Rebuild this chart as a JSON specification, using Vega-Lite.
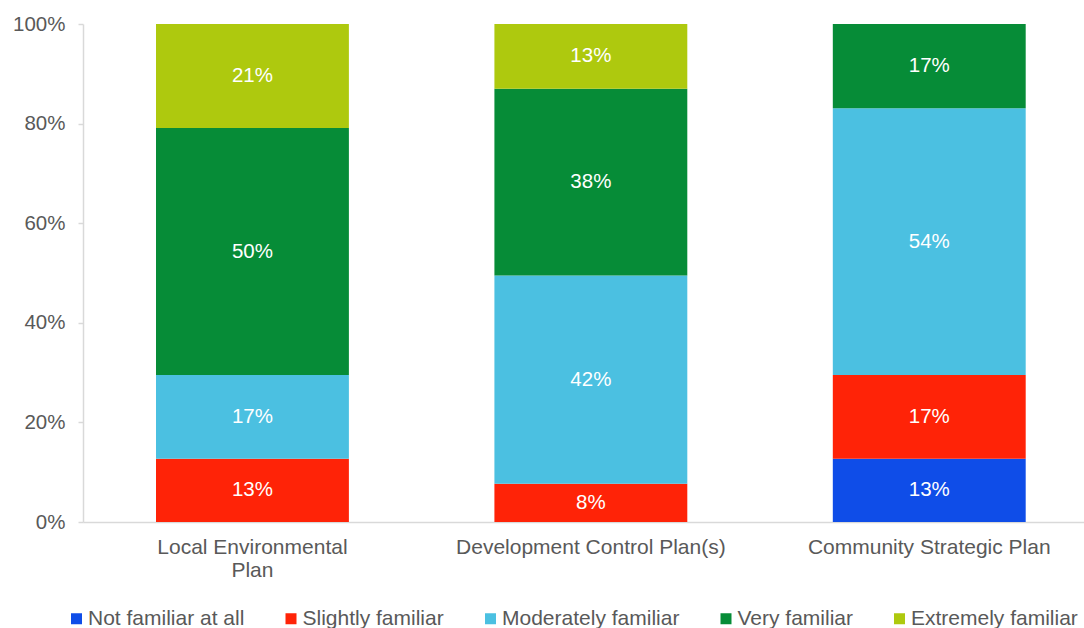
{
  "$schema": "https://vega.github.io/schema/vega-lite/v6.json",
  "width": 1001,
  "height": 498,
  "autosize": {"type": "none"},
  "padding": {"left": 83, "top": 24, "right": 0, "bottom": 106},
  "background": "white",
  "config": {
    "view": {"stroke": null},
    "font": "Liberation Sans",
    "axis": {"labelFont": "Liberation Sans", "labelColor": "#595959", "domainColor": "#d9d9d9", "tickColor": "#d9d9d9", "grid": false, "title": null}
  },
  "data": {
    "values": [
      {"plan": "Local Environmental Plan", "level": 2, "familiarity": "Slightly familiar", "share": 0.127},
      {"plan": "Local Environmental Plan", "level": 3, "familiarity": "Moderately familiar", "share": 0.168},
      {"plan": "Local Environmental Plan", "level": 4, "familiarity": "Very familiar", "share": 0.496},
      {"plan": "Local Environmental Plan", "level": 5, "familiarity": "Extremely familiar", "share": 0.209},
      {"plan": "Development Control Plan(s)", "level": 2, "familiarity": "Slightly familiar", "share": 0.077},
      {"plan": "Development Control Plan(s)", "level": 3, "familiarity": "Moderately familiar", "share": 0.418},
      {"plan": "Development Control Plan(s)", "level": 4, "familiarity": "Very familiar", "share": 0.375},
      {"plan": "Development Control Plan(s)", "level": 5, "familiarity": "Extremely familiar", "share": 0.13},
      {"plan": "Community Strategic Plan", "level": 1, "familiarity": "Not familiar at all", "share": 0.127},
      {"plan": "Community Strategic Plan", "level": 2, "familiarity": "Slightly familiar", "share": 0.168},
      {"plan": "Community Strategic Plan", "level": 3, "familiarity": "Moderately familiar", "share": 0.536},
      {"plan": "Community Strategic Plan", "level": 4, "familiarity": "Very familiar", "share": 0.169}
    ]
  },
  "encoding": {
    "x": {
      "field": "plan", "type": "nominal",
      "sort": ["Local Environmental Plan", "Development Control Plan(s)", "Community Strategic Plan"],
      "scale": {"paddingInner": 0.43, "paddingOuter": 0.194, "align": 0.556},
      "axis": {
        "labelAngle": 0, "ticks": false, "labelPadding": 14, "labelFontSize": 21, "labelLimit": 0,
        "labelLineHeight": 23, "domainWidth": 1.5,
        "labelExpr": "datum.label == 'Local Environmental Plan' ? ['Local Environmental', 'Plan'] : datum.label"
      }
    },
    "y": {
      "field": "share", "type": "quantitative", "stack": "zero",
      "scale": {"domain": [0, 1], "nice": false},
      "axis": {"values": [0, 0.2, 0.4, 0.6, 0.8, 1], "format": ".0%", "tickSize": 5, "labelPadding": 13, "labelFontSize": 20.5, "domainWidth": 1.5, "tickWidth": 1.5}
    },
    "order": {"field": "level", "type": "quantitative", "sort": "ascending"}
  },
  "layer": [
    {
      "mark": {"type": "bar"},
      "encoding": {
        "color": {
          "field": "familiarity", "type": "nominal",
          "scale": {
            "domain": ["Not familiar at all", "Slightly familiar", "Moderately familiar", "Very familiar", "Extremely familiar"],
            "range": ["#0f4de8", "#ff2307", "#4bc0e1", "#068c37", "#aec90e"]
          },
          "legend": {
            "title": null, "orient": "none", "direction": "horizontal", "columns": 5,
            "legendX": -17, "legendY": 584, "padding": 0,
            "symbolType": "square", "symbolSize": 121, "symbolStrokeWidth": 0,
            "labelFontSize": 21, "labelColor": "#595959", "labelFont": "Liberation Sans", "labelLimit": 0,
            "labelOffset": 1, "columnPadding": 35.5
          }
        }
      }
    },
    {
      "mark": {"type": "text", "color": "white", "fontSize": 20.5, "font": "Liberation Sans", "baseline": "middle"},
      "encoding": {
        "y": {"field": "share", "type": "quantitative", "stack": "zero", "bandPosition": 0.5},
        "detail": {"field": "familiarity"},
        "text": {"field": "share", "type": "quantitative", "format": ".0%"}
      }
    }
  ]
}
